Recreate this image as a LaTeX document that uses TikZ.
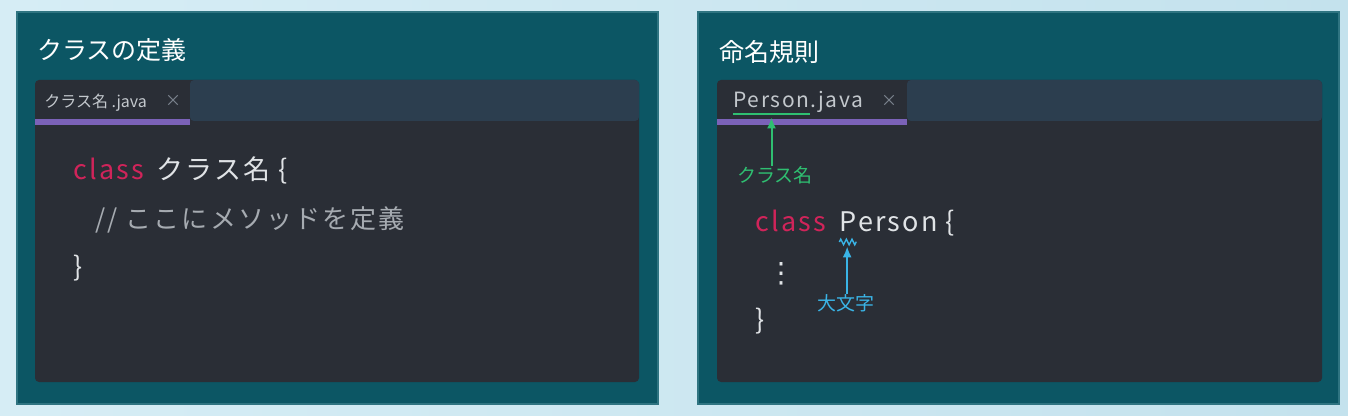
\documentclass[tikz,border=0pt]{standalone}
\usepackage{fontspec}
\setmainfont{Noto Sans CJK JP}
\newfontfamily\codefont[LetterSpace=8]{Noto Sans CJK JP}
\newfontfamily\symfont{DejaVu Sans}
\usetikzlibrary{positioning,
	arrows.meta,
	decorations.pathmorphing}
\definecolor{bgA}{HTML}{D6EDF5}
\definecolor{bgB}{HTML}{EAF7FC}
\definecolor{bgC}{HTML}{C4E2ED}
\definecolor{panelc}{HTML}{0C5664}
\definecolor{paneledge}{HTML}{2F7481}
\definecolor{edbg}{HTML}{2A2E36}
\definecolor{tabbar}{HTML}{2C3E4F}
\definecolor{tabline}{HTML}{7B62B8}
\definecolor{kwc}{HTML}{D0245A}
\definecolor{codefg}{HTML}{E0E3E6}
\definecolor{cmtc}{HTML}{A6ABB1}
\definecolor{tabfg}{HTML}{C3C8CD}
\definecolor{closec}{HTML}{7D8590}
\definecolor{clsc}{HTML}{2FBF71}
\definecolor{capc}{HTML}{3AB4E6}
\tikzstyle{panel}=[fill=panelc, draw=paneledge, line width=1]
\tikzstyle{ttl}=[anchor=west, inner sep=0, text=white, font=\fontsize{12.5}{15}\selectfont]
\tikzstyle{code}=[inner sep=0, text=codefg, text height=10pt, text depth=3pt,
		font=\codefont\fontsize{13.5}{16}\selectfont]
\tikzstyle{kw}=[text=kwc]
\tikzstyle{cmt}=[text=cmtc]
\tikzstyle{tabtxt}=[inner sep=0, text=tabfg, text height=8pt, text depth=2pt]
\tikzstyle{closex}=[inner sep=0, text=closec, font=\fontsize{8}{10}\selectfont]
\tikzstyle{note}=[inner sep=0, font=\fontsize{9.5}{11}\selectfont]
\tikzstyle{arr}=[-{Latex[length=5.5pt, width=4.5pt]}, line width=1]

\begin{document}
\begin{tikzpicture}[x=0.5pt, y=-0.5pt]
	\useasboundingbox (0,0) rectangle (1348,416);
	\shade[left color=bgA, middle color=bgB, right color=bgC] (0,0) rectangle (1348,416);
	% left: class definition
	\draw[panel] (17,12) rectangle (658,404);
	\node[ttl] (ttlL) at (37,50) {クラスの定義};
	\fill[edbg, rounded corners=2] (35,80) rectangle (639,382);
	\fill[tabbar, rounded corners=2] (190,80) rectangle (639,121);
	\draw[tabline, line width=3] (35,122) -- (190,122);
	\node[tabtxt, anchor=west, font=\fontsize{8}{10}\selectfont] (tabL) at (44,102) {クラス名 .java};
	\node[closex] (xL) at (173,101) {×};
	\node[code, kw, anchor=west] (kwL) at (73,173) {class};
	\node[code, right=6pt of kwL] (nmL) {クラス名 \{};
	\node[code, cmt, anchor=west, font=\codefont\fontsize{13}{16}\selectfont] (cmtL) at (95,222) {// ここにメソッドを定義};
	\node[code, anchor=west] (brL) at (73,270) {\}};
	% right: naming rules
	\draw[panel] (698,12) rectangle (1339,404);
	\node[ttl] (ttlR) at (719,52) {命名規則};
	\fill[edbg, rounded corners=2] (717,80) rectangle (1322,382);
	\fill[tabbar, rounded corners=2] (907,80) rectangle (1322,121);
	\draw[tabline, line width=3] (717,122) -- (907,122);
	\node[tabtxt, anchor=west, font=\codefont\fontsize{10.5}{12}\selectfont] (tabP) at (733,102) {Person};
	\node[tabtxt, right=0pt of tabP, font=\codefont\fontsize{10.5}{12}\selectfont] (tabJ) {.java};
	\node[closex] (xR) at (889,101) {×};
	\draw[clsc, line width=1] ([yshift=-1pt]tabP.south west) -- ([yshift=-1pt]tabP.south east);
	\coordinate (clsTip) at ([yshift=-2.5pt]tabP.south);
	\node[note, text=clsc] (clsLbl) at (775,175) {クラス名};
	\draw[arr, clsc] (clsLbl.north -| clsTip) -- (clsTip);
	\node[code, kw, anchor=west] (kwR) at (755,225) {class};
	\node[code, right=6.5pt of kwR] (nmR) {Person \{};
	\draw[capc, line width=0.7, decorate, decoration={zigzag, segment length=2.8pt, amplitude=1.4pt}]
		([xshift=0pt, yshift=-1.8pt]nmR.south west) -- ++(17,0);
	\coordinate (capTip) at ([xshift=3.9pt, yshift=-4pt]nmR.south west);
	\node[note, text=capc] (capLbl) at (846,303) {大文字};
	\draw[arr, capc] (capLbl.north -| capTip) -- (capTip);
	\node[inner sep=0, text=codefg, font=\symfont\fontsize{14}{16}\selectfont] (dotsR) at (781,274) {⋮};
	\node[code, anchor=west] (brR) at (755,322) {\}};
\end{tikzpicture}
\end{document}
